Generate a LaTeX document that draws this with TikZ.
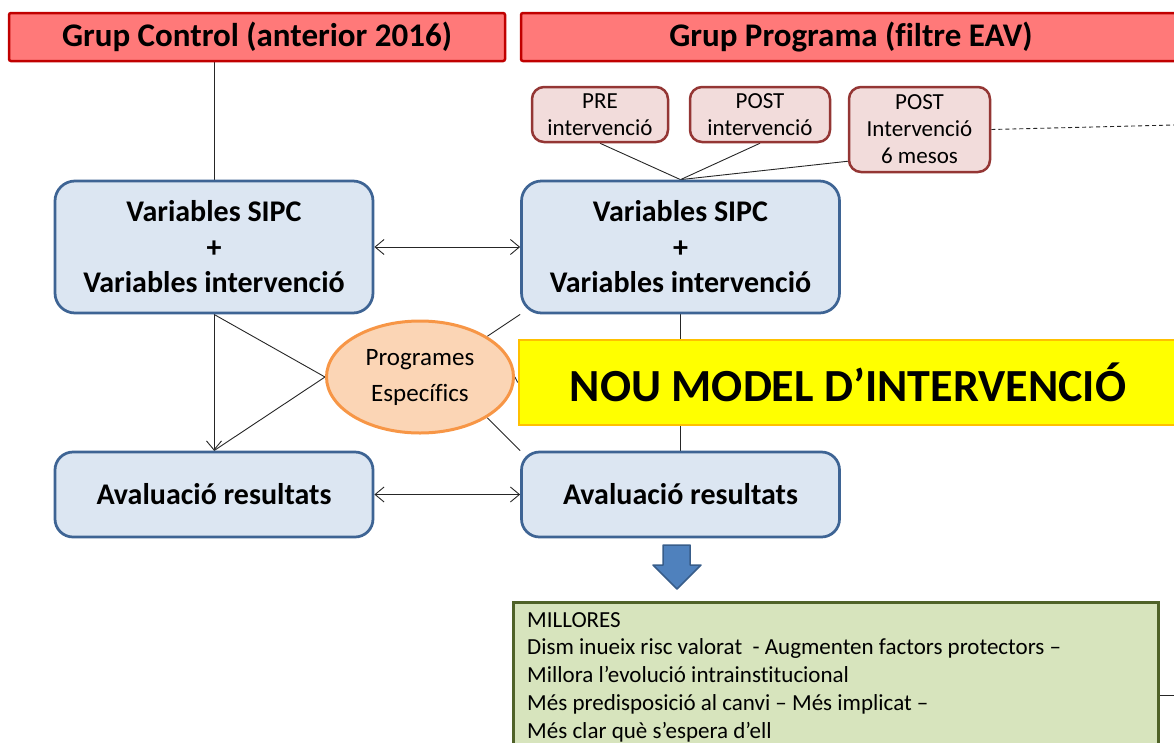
\documentclass[tikz,border=0pt]{standalone}
\usepackage{fontspec}
\setmainfont{Carlito}[Ligatures=NoCommon]
\usetikzlibrary{shapes.geometric,arrows.meta,backgrounds,calc}

\definecolor{hdrfill}{HTML}{FF7979}
\definecolor{hdrline}{HTML}{C00000}
\definecolor{varfill}{HTML}{DCE6F2}
\definecolor{varline}{HTML}{3E6494}
\definecolor{stagefill}{HTML}{F2DCDB}
\definecolor{stageline}{HTML}{943634}
\definecolor{progfill}{HTML}{FBD5B5}
\definecolor{progline}{HTML}{F79646}
\definecolor{noufill}{HTML}{FFFF00}
\definecolor{nouline}{HTML}{FFC000}
\definecolor{millfill}{HTML}{D7E4BD}
\definecolor{millline}{HTML}{4F6228}
\definecolor{arrowfill}{HTML}{4F81BD}
\definecolor{arrowline}{HTML}{385D8A}

\tikzset{
  hdr/.style={draw=hdrline, fill=hdrfill, line width=2.5pt, rounded corners=2pt,
    font=\fontsize{33}{39}\selectfont\bfseries, inner sep=0pt},
  varbox/.style={draw=varline, fill=varfill, line width=2.75pt, rounded corners=20pt,
    align=center, font=\fontsize{30}{35.5}\selectfont\bfseries, inner sep=0pt,
    minimum width=318, minimum height=132},
  avbox/.style={varbox, rounded corners=18pt, minimum height=85},
  stagebox/.style={draw=stageline, fill=stagefill, line width=2.5pt, rounded corners=12pt,
    align=center, font=\fontsize{23}{27}\selectfont, inner sep=0pt},
  progell/.style={ellipse, draw=progline, fill=progfill, line width=3pt,
    align=center, font=\fontsize{25}{36}\selectfont, inner sep=0pt,
    minimum width=187, minimum height=112},
  noubox/.style={draw=nouline, fill=noufill, line width=2.75pt,
    font=\fontsize{46}{55}\selectfont\bfseries, inner sep=0pt},
  millbox/.style={draw=millline, fill=millfill, line width=2.75pt, inner sep=0pt},
  milltext/.style={align=left, font=\fontsize{23}{27.75}\selectfont, inner sep=0pt},
  conn/.style={draw=black!85, line width=0.9pt},
  blockarrow/.style={fill=arrowfill, draw=arrowline, line width=1.5pt, line join=round}
}

\begin{document}
\begin{tikzpicture}[x=1pt,y=-1pt, >={Straight Barb[length=9pt,width=15pt]}]
\useasboundingbox (0,0) rectangle (1174,742);
\clip (0,0) rectangle (1174,742);

% group headers
\node[hdr, minimum width=496, minimum height=48] (lhead) at (257,37) {Grup Control (anterior 2016)};
\node[hdr, minimum width=660, minimum height=48] (rhead) at (851,37) {Grup Programa (filtre EAV)};

% measurement stages
\node[stagebox, minimum width=136, minimum height=55] (pre) at (600,114.5) {PRE\\intervenció};
\node[stagebox, minimum width=140, minimum height=55] (post) at (760,114.5) {POST\\intervenció};
\node[stagebox, minimum width=141, minimum height=85] (mesos) at (919.5,129.5) {POST\\Intervenció\\6 mesos};

% variables and results
\node[varbox] (lsipc) at (214,247) {Variables SIPC\\+\\Variables intervenció};
\node[varbox] (rsipc) at (680.5,247) {Variables SIPC\\+\\Variables intervenció};
\node[avbox] (lav) at (214,494.5) {Avaluació resultats};
\node[avbox] (rav) at (680.5,494.5) {Avaluació resultats};

% specific programmes
\node[progell] (ell) at (420,377) {Programes\\Específics};

% new model banner
\node[noubox, minimum width=658, minimum height=85] (nou) at (848,382.5) {NOU MODEL D’INTERVENCIÓ};

% improvements
\node[millbox, anchor=north west, minimum width=645, minimum height=180] (mill) at (512,601) {};
\node[milltext, anchor=north west] (milltxt) at (527,612)
  {MILLORES\\
   Dism inueix risc valorat~ - Augmenten factors protectors –\\
   Millora l’evolució intrainstitucional\\
   Més predisposició al canvi – Més implicat –\\
   Més clar què s’espera d’ell};

% block arrow from results to improvements
\draw[blockarrow] (663,545) -- (690,545) -- (690,565) -- (701,565) -- (677,589)
  -- (653,565) -- (663,565) -- cycle;

% free ends at the right margin
\coordinate (dashend) at (1174,125);
\coordinate (millend) at (1174,695);

\begin{scope}[on background layer]
  \draw[conn] (lsipc.north |- lhead.south) -- (lsipc.north);
  \draw[conn] (pre.south) -- (rsipc.north);
  \draw[conn] (post.south) -- (rsipc.north);
  \draw[conn] ($(mesos.south west)+(0,-12)$) -- (rsipc.north);
  \draw[conn, dash pattern=on 4pt off 3pt] (mesos.east) -- (dashend);
  \draw[conn, <->] (lsipc.east) -- (rsipc.west);
  \draw[conn, <->] (lav.east) -- (rav.west);
  \draw[conn, ->] (lsipc.south) -- (lav.north);
  \draw[conn] (lsipc.south) -- (ell.west) -- (lav.north);
  \draw[conn] (ell.north east) -- (rsipc.south west);
  \draw[conn] (ell.east) -- (nou.west);
  \draw[conn] (ell.south east) -- (rav.north west);
  \draw[conn] (rsipc.south) -- (rav.north);
  \draw[conn] ($(mill.north east)+(0,94)$) -- (millend);
\end{scope}
\end{tikzpicture}
\end{document}
